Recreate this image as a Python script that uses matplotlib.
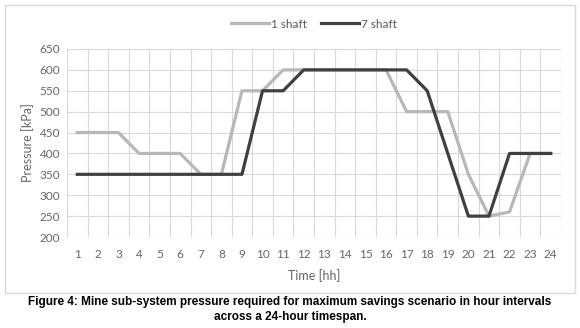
import matplotlib
matplotlib.use("Agg")
import matplotlib.pyplot as plt
from matplotlib.patches import Rectangle

hours = list(range(1, 25))
shaft_1 = [450, 450, 450, 400, 400, 400, 350, 350, 550, 550, 600, 600,
           600, 600, 600, 600, 500, 500, 500, 350, 250, 260, 400, 400]
shaft_7 = [350, 350, 350, 350, 350, 350, 350, 350, 350, 550, 550, 600,
           600, 600, 600, 600, 600, 550, 400, 250, 250, 400, 400, 400]
y_ticks = list(range(200, 651, 50))

W, H = 580, 328
fig = plt.figure(figsize=(W / 100, H / 100), dpi=100)

# chart frame
fig.patches.append(Rectangle((5 / W, 1 - 293 / H), 570 / W, 288 / H,
                             transform=fig.transFigure, fill=False,
                             edgecolor="#d9d9d9", linewidth=1.0))

ax = fig.add_axes([67 / W, 1 - 237 / H, (561 - 67) / W, (237 - 49) / H])
ax.plot(hours, shaft_1, color="#b7b7b7", lw=2.3, label="1 shaft", solid_joinstyle="round")
ax.plot(hours, shaft_7, color="#404040", lw=2.3, label="7 shaft", solid_joinstyle="round")

ax.set_xlim(0.5, 24.5)
ax.set_ylim(200, 650)
ax.set_yticks(y_ticks)
ax.set_xticks(hours)
ax.set_xticks([h + 0.5 for h in range(0, 25)], minor=True)
ax.grid(False)
ax.grid(True, which="minor", axis="x", color="#d9d9d9", lw=0.8)
ax.grid(True, which="major", axis="y", color="#d9d9d9", lw=0.8)
ax.set_axisbelow(True)
for s in ax.spines.values():
    s.set_visible(False)
ax.tick_params(which="both", length=0)
ax.tick_params(axis="x", pad=9)
ax.tick_params(axis="y", pad=5)
for lab in ax.get_xticklabels() + ax.get_yticklabels():
    lab.set_color("#666666")
    lab.set_fontsize(8.5)
    lab.set_fontfamily("Lato")

ax.set_xlabel("Time [hh]", color="#666666", fontsize=9, fontfamily="Lato", labelpad=6)
ax.set_ylabel("Pressure [kPa]", color="#666666", fontsize=9, fontfamily="Lato", labelpad=4)

leg = ax.legend(loc="center", bbox_to_anchor=(314 / W, 1 - 24 / H),
                bbox_transform=fig.transFigure, ncol=2, frameon=False,
                prop={"family": "Lato", "size": 8.5}, handlelength=3.2,
                columnspacing=1.2, handletextpad=0.2)
for t in leg.get_texts():
    t.set_color("#595959")

fig.text(0.5, 1 - 302 / H,
         "Figure 4: Mine sub-system pressure required for maximum savings scenario in hour intervals",
         ha="center", va="center", fontsize=8.5, fontweight="bold", fontfamily="Liberation Sans")
fig.text(0.5, 1 - 317 / H, "across a 24-hour timespan.",
         ha="center", va="center", fontsize=8.5, fontweight="bold", fontfamily="Liberation Sans")

fig.savefig("out.png", dpi=100)
